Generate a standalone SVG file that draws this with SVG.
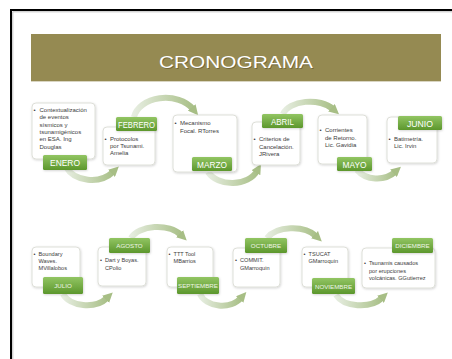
<svg xmlns="http://www.w3.org/2000/svg" width="452" height="359" viewBox="0 0 452 359">
  <defs>
    <linearGradient id="gLabel" x1="0" y1="0" x2="0" y2="1">
      <stop offset="0" stop-color="#92c563"/>
      <stop offset="1" stop-color="#5c972d"/>
    </linearGradient>
    <linearGradient id="gArc" x1="0" y1="0" x2="1" y2="0">
      <stop offset="0" stop-color="#e6ede0"/>
      <stop offset="1" stop-color="#a9c088"/>
    </linearGradient>
    <marker id="ah" viewBox="0 0 10 10" refX="2" refY="5" markerWidth="10" markerHeight="10" markerUnits="userSpaceOnUse" orient="auto">
      <path d="M0,0 L10,5 L0,10 z" fill="#a7be85"/>
    </marker>
    <filter id="sh" x="-10%" y="-10%" width="130%" height="130%">
      <feDropShadow dx="0.6" dy="0.8" stdDeviation="0.8" flood-color="#000" flood-opacity="0.18"/>
    </filter>
  </defs>
  <style>
    .box { fill: #ffffff; stroke: #d6d8cf; stroke-width: 0.8; filter: url(#sh); }
    .lab { fill: url(#gLabel); filter: url(#sh); }
    .lt { font-family: "Liberation Sans", Arial, sans-serif; fill: #ffffff; text-anchor: middle; }
    .l1 { font-size: 9px; }
    .l2 { font-size: 6.2px; fill: #eef5e6; }
    .bt { font-family: "Liberation Sans", Arial, sans-serif; font-size: 6px; fill: #3c3c3c; }
    .bt2 { font-family: "Liberation Sans", Arial, sans-serif; font-size: 5.6px; fill: #3c3c3c; }
    .arc { fill: none; stroke: url(#gArc); stroke-width: 6; marker-end: url(#ah); }
  </style>

  <rect width="452" height="359" fill="#ffffff"/>
  <!-- page frame -->
  <path d="M11,359 V10 H452" fill="none" stroke="#000" stroke-width="2"/>
  <path d="M12.8,359 V11.8 H452" fill="none" stroke="#b0b0b0" stroke-width="0.8"/>

  <!-- title bar -->
  <g id="title">
    <rect x="31" y="34" width="410" height="47" fill="#958a52"/>
    <line x1="31" y1="81.5" x2="441" y2="81.5" stroke="#d9d5c2" stroke-width="1"/>
    <text x="237" y="68.5" font-family="Liberation Sans, Arial, sans-serif" font-size="17" fill="#5a5230" opacity="0.6" text-anchor="middle" textLength="154" lengthAdjust="spacingAndGlyphs">CRONOGRAMA</text>
    <text x="236" y="67.5" font-family="Liberation Sans, Arial, sans-serif" font-size="17" fill="#ffffff" text-anchor="middle" textLength="154" lengthAdjust="spacingAndGlyphs">CRONOGRAMA</text>
  </g>

  <!-- connectors -->
  <g id="connectors">
    <path class="arc" d="M66,167 A28 22 0 0 0 113,172"/>
    <path class="arc" d="M134,117 A32 23 0 0 1 193,109"/>
    <path class="arc" d="M208,172 A27 20 0 0 0 257,171"/>
    <path class="arc" d="M283,114 A28 17 0 0 1 333,109"/>
    <path class="arc" d="M357,170 A24 19 0 0 0 395,172"/>
    <path class="arc" d="M63,294 A25 17 0 0 0 107,298"/>
    <path class="arc" d="M131,238 A28 17 0 0 1 181,235"/>
    <path class="arc" d="M200,294 A23 17 0 0 0 241,298"/>
    <path class="arc" d="M267,238 A28 17 0 0 1 316,236"/>
    <path class="arc" d="M336,295 A26 16 0 0 0 382,298"/>
  </g>

  <!-- row 1 -->
  <g id="enero">
    <rect class="box" x="32" y="103" width="63" height="56" rx="4"/>
    <text class="bt"><tspan x="33.5" y="112">•</tspan><tspan x="39.5" y="112">Contextualización</tspan><tspan x="39.5" y="119.3">de eventos</tspan><tspan x="39.5" y="126.6">sísmicos y</tspan><tspan x="39.5" y="133.9">tsunamigénicos</tspan><tspan x="39.5" y="141.2">en ESA. Ing</tspan><tspan x="39.5" y="148.5">Douglas</tspan></text>
    <rect class="lab" x="43" y="155" width="44" height="15" rx="1.5"/>
    <text class="lt l1" x="65" y="166" textLength="30" lengthAdjust="spacingAndGlyphs">ENERO</text>
  </g>
  <g id="febrero">
    <rect class="box" x="103" y="127" width="52" height="38" rx="4"/>
    <text class="bt"><tspan x="104.5" y="141">•</tspan><tspan x="110" y="141">Protocolos</tspan><tspan x="110" y="148">por Tsunami.</tspan><tspan x="110" y="155">Amelia</tspan></text>
    <rect class="lab" x="116" y="117" width="41" height="14" rx="1.5"/>
    <text class="lt l1" x="136.5" y="127.5" textLength="37" lengthAdjust="spacingAndGlyphs">FEBRERO</text>
  </g>
  <g id="marzo">
    <rect class="box" x="173" y="115" width="64" height="57" rx="4"/>
    <text class="bt"><tspan x="174.5" y="125">•</tspan><tspan x="180" y="125">Mecanismo</tspan><tspan x="180" y="132.5">Focal.  RTorres</tspan></text>
    <rect class="lab" x="192" y="157" width="40" height="14" rx="1.5"/>
    <text class="lt l1" x="212" y="167.5" textLength="30" lengthAdjust="spacingAndGlyphs">MARZO</text>
  </g>
  <g id="abril">
    <rect class="box" x="252" y="122" width="48" height="43" rx="4"/>
    <text class="bt"><tspan x="253.5" y="141">•</tspan><tspan x="259" y="141">Criterios de</tspan><tspan x="259" y="148.5">Cancelación.</tspan><tspan x="259" y="156">JRivera</tspan></text>
    <rect class="lab" x="262" y="114" width="41" height="14" rx="1.5"/>
    <text class="lt l1" x="282.5" y="124.5" textLength="23" lengthAdjust="spacingAndGlyphs">ABRIL</text>
  </g>
  <g id="mayo">
    <rect class="box" x="318" y="115" width="49" height="49" rx="4"/>
    <text class="bt"><tspan x="319.5" y="132">•</tspan><tspan x="325" y="132">Corrientes</tspan><tspan x="325" y="139.5">de Retorno.</tspan><tspan x="325" y="147">Lic. Gavidia</tspan></text>
    <rect class="lab" x="337" y="157" width="35" height="14" rx="1.5"/>
    <text class="lt l1" x="354.5" y="167.5" textLength="24" lengthAdjust="spacingAndGlyphs">MAYO</text>
  </g>
  <g id="junio">
    <rect class="box" x="387" y="117" width="50" height="46" rx="4"/>
    <text class="bt"><tspan x="388.5" y="141">•</tspan><tspan x="394" y="141">Batimetría.</tspan><tspan x="394" y="148">Lic. Irvin</tspan></text>
    <rect class="lab" x="398" y="116" width="44" height="14" rx="1.5"/>
    <text class="lt l1" x="420" y="126.5" textLength="26" lengthAdjust="spacingAndGlyphs">JUNIO</text>
  </g>

  <!-- row 2 -->
  <g id="julio">
    <rect class="box" x="32" y="247" width="48" height="40" rx="4"/>
    <text class="bt2"><tspan x="33.5" y="255.5">•</tspan><tspan x="38.5" y="255.5">Boundary</tspan><tspan x="38.5" y="262.5">Waves.</tspan><tspan x="38.5" y="269.5">MVillalobos</tspan></text>
    <rect class="lab" x="43" y="277" width="40" height="17" rx="1.5"/>
    <text class="lt l2" x="63" y="288">JULIO</text>
  </g>
  <g id="agosto">
    <rect class="box" x="98" y="247" width="48" height="39" rx="4"/>
    <text class="bt2"><tspan x="100" y="262">•</tspan><tspan x="105" y="262">Dart y Boyas.</tspan><tspan x="105" y="269.5">CPolio</tspan></text>
    <rect class="lab" x="109" y="238" width="41" height="15" rx="1.5"/>
    <text class="lt l2" x="129.5" y="247.5">AGOSTO</text>
  </g>
  <g id="septiembre">
    <rect class="box" x="167" y="247" width="46" height="40" rx="4"/>
    <text class="bt2"><tspan x="168.5" y="255.5">•</tspan><tspan x="173.5" y="255.5">TTT Tool</tspan><tspan x="173.5" y="262.5">MBarrios</tspan></text>
    <rect class="lab" x="177" y="277" width="42" height="17" rx="1.5"/>
    <text class="lt l2" x="198" y="288">SEPTIEMBRE</text>
  </g>
  <g id="octubre">
    <rect class="box" x="233" y="248" width="47" height="39" rx="4"/>
    <text class="bt2"><tspan x="235" y="262">•</tspan><tspan x="240" y="262">COMMIT.</tspan><tspan x="240" y="269.5">GMarroquin</tspan></text>
    <rect class="lab" x="245" y="238" width="42" height="15" rx="1.5"/>
    <text class="lt l2" x="266" y="247.5">OCTUBRE</text>
  </g>
  <g id="noviembre">
    <rect class="box" x="302" y="247" width="46" height="40" rx="4"/>
    <text class="bt2"><tspan x="303.5" y="255.5">•</tspan><tspan x="308.5" y="255.5">TSUCAT</tspan><tspan x="308.5" y="262.5">GMarroquin</tspan></text>
    <rect class="lab" x="312" y="278" width="43" height="16" rx="1.5"/>
    <text class="lt l2" x="333.5" y="288.5">NOVIEMBRE</text>
  </g>
  <g id="diciembre">
    <rect class="box" x="362" y="248" width="73" height="40" rx="4"/>
    <text class="bt2"><tspan x="364" y="265">•</tspan><tspan x="369" y="265">Tsunamis causados</tspan><tspan x="369" y="272.5">por erupciones</tspan><tspan x="369" y="280">volcánicas. GGutierrez</tspan></text>
    <rect class="lab" x="392" y="238" width="41" height="15" rx="1.5"/>
    <text class="lt l2" x="412.5" y="247.5">DICIEMBRE</text>
  </g>
</svg>
